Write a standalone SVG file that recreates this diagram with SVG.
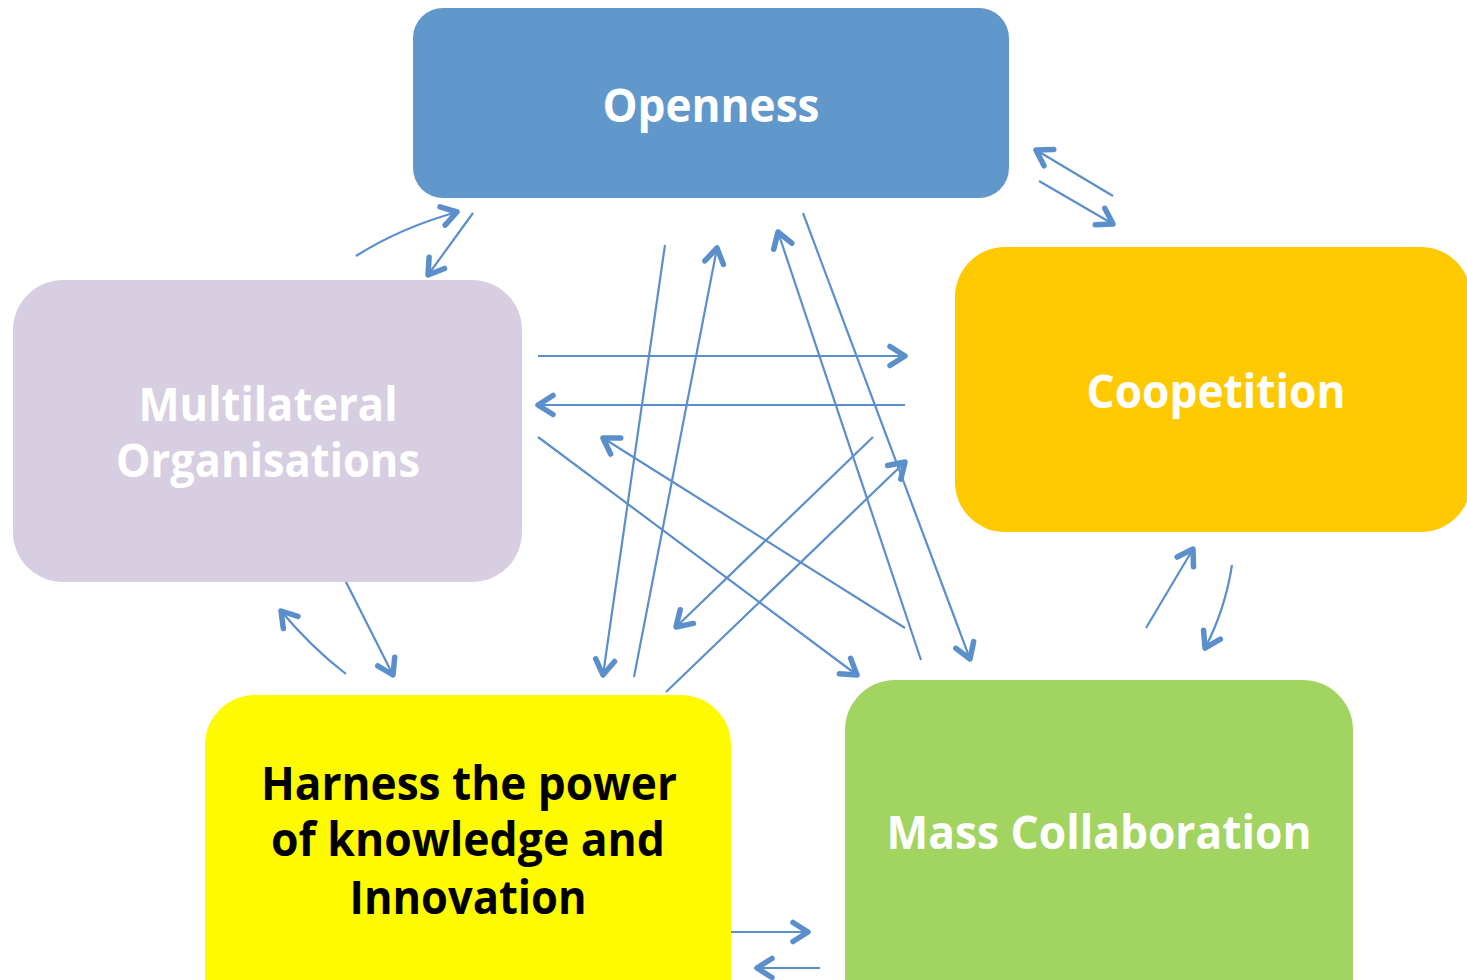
<svg xmlns="http://www.w3.org/2000/svg" width="1467" height="980" viewBox="0 0 1467 980">
<style>
.lbl{font-family:"Open Sans","Liberation Sans",sans-serif;font-weight:bold;font-size:46px;text-anchor:middle}
.w{fill:#ffffff}
.k{fill:#000000}
.c{fill:none;stroke:#5b8fcb;stroke-width:2.2;marker-end:url(#ah)}
</style>
<defs>
<marker id="ah" markerUnits="userSpaceOnUse" viewBox="-22 -16 30 32" markerWidth="30" markerHeight="32" refX="0" refY="0" orient="auto">
<path d="M-15,-9.5 L0,0 L-15,9.5" fill="none" stroke="#5b8fcb" stroke-width="5.5" stroke-linecap="round" stroke-linejoin="round"/>
</marker>
</defs>
<rect width="1467" height="980" fill="#ffffff"/>
<g id="openness">
<rect x="413" y="8" width="596" height="190" rx="30" fill="#6198cb"/>
<text class="lbl w" x="711" y="122" textLength="217" lengthAdjust="spacingAndGlyphs">Openness</text>
</g>
<g id="coopetition">
<rect x="955" y="247" width="516" height="285" rx="50" fill="#ffc901"/>
<text class="lbl w" x="1216" y="408" textLength="259" lengthAdjust="spacingAndGlyphs">Coopetition</text>
</g>
<g id="multilateral">
<rect x="13" y="280" width="509" height="302" rx="50" fill="#d7cee2"/>
<text class="lbl w" x="268" y="421" textLength="259" lengthAdjust="spacingAndGlyphs">Multilateral</text>
<text class="lbl w" x="268" y="477" textLength="304" lengthAdjust="spacingAndGlyphs">Organisations</text>
</g>
<g id="harness">
<rect x="205" y="695" width="526" height="340" rx="50" fill="#fefa00"/>
<text class="lbl k" x="469" y="800" textLength="416" lengthAdjust="spacingAndGlyphs">Harness the power</text>
<text class="lbl k" x="468" y="856" textLength="394" lengthAdjust="spacingAndGlyphs">of knowledge and</text>
<text class="lbl k" x="468" y="914" textLength="237" lengthAdjust="spacingAndGlyphs">Innovation</text>
</g>
<g id="mass">
<rect x="845" y="680" width="508" height="360" rx="50" fill="#a2d462"/>
<text class="lbl w" x="1099" y="849" textLength="425" lengthAdjust="spacingAndGlyphs">Mass Collaboration</text>
</g>
<g id="connectors">
<path class="c" d="M356,256 Q400,228 457,212"/>
<path class="c" d="M473,213 L428,275"/>
<path class="c" d="M1113,196 L1036,150"/>
<path class="c" d="M1039,181 L1113,224"/>
<path class="c" d="M665,245 L603,675"/>
<path class="c" d="M634,677 L717,248"/>
<path class="c" d="M921,660 L778,232"/>
<path class="c" d="M803,213 L970,659"/>
<path class="c" d="M538,356 L905,356"/>
<path class="c" d="M905,405 L538,405"/>
<path class="c" d="M538,437 L857,675"/>
<path class="c" d="M905,628 L603,438"/>
<path class="c" d="M873,437 L676,627"/>
<path class="c" d="M666,692 L905,462"/>
<path class="c" d="M346,582 L393,675"/>
<path class="c" d="M346,674 Q312,648 281,611"/>
<path class="c" d="M1146,628 L1193,549"/>
<path class="c" d="M1232,565 Q1225,610 1205,648"/>
<path class="c" d="M731,932 L808,932"/>
<path class="c" d="M820,968 L757,968"/>
</g>
</svg>
